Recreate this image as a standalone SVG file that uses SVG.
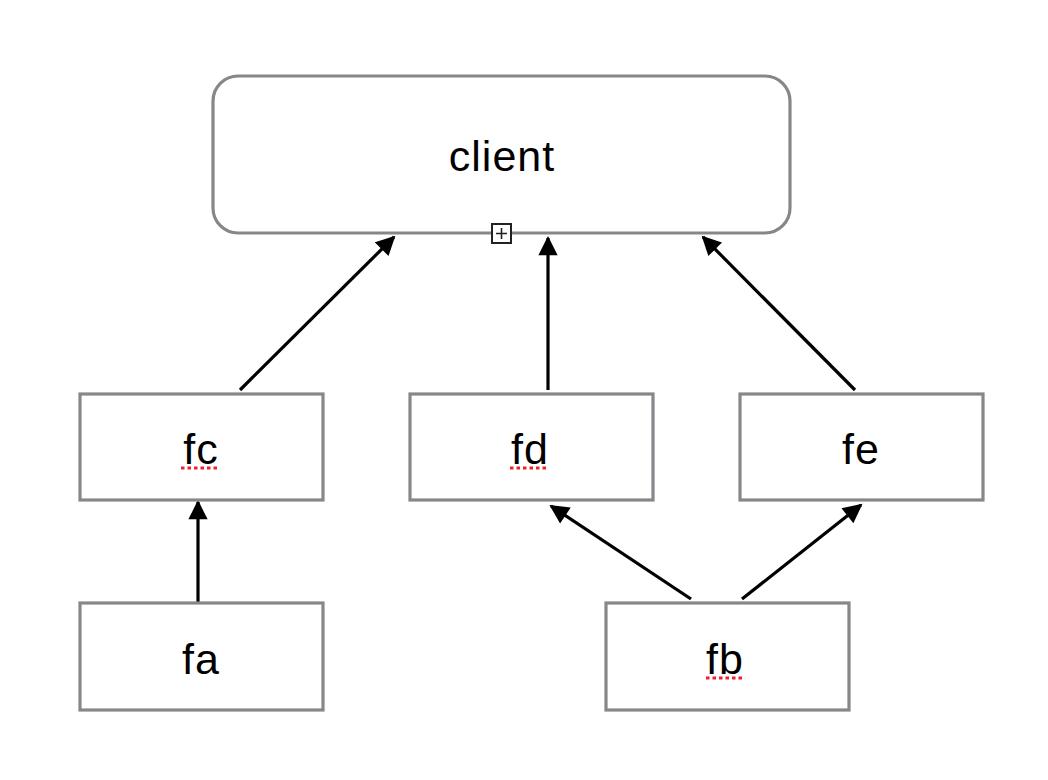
<svg xmlns="http://www.w3.org/2000/svg" width="1048" height="780" viewBox="0 0 1048 780">
<style>
.box{fill:#fff;stroke:#86878a;stroke-width:3.2}
.lbl{font-family:"Liberation Sans",Arial,sans-serif;font-size:43px;letter-spacing:1px;fill:#000;text-anchor:middle}
.edge{stroke:#000;stroke-width:3.2;fill:none}
.spell{stroke:#f0202a;stroke-width:3;stroke-dasharray:3.5 3;fill:none}
</style>
<defs>
<marker id="ah" viewBox="0 0 10 10" refX="9" refY="5" markerWidth="6.5" markerHeight="6" markerUnits="strokeWidth" orient="auto">
<path d="M0,0 L10,5 L0,10 z" fill="#000"/>
</marker>
</defs>
<rect width="1048" height="780" fill="#fff"/>
<g id="connectors">
<line class="edge" x1="240" y1="390" x2="394" y2="237" marker-end="url(#ah)"/>
<line class="edge" x1="548" y1="390" x2="548" y2="238" marker-end="url(#ah)"/>
<line class="edge" x1="855" y1="390" x2="703" y2="237" marker-end="url(#ah)"/>
<line class="edge" x1="198" y1="605" x2="198" y2="502" marker-end="url(#ah)"/>
<line class="edge" x1="691" y1="599" x2="551" y2="506" marker-end="url(#ah)"/>
<line class="edge" x1="742" y1="599" x2="861" y2="505" marker-end="url(#ah)"/>
</g>
<g id="client">
<rect class="box" x="213" y="76" width="577" height="157" rx="25" ry="25"/>
<text class="lbl" x="502" y="171">client</text>
<rect x="492" y="224" width="19" height="19" fill="#fff" stroke="#222" stroke-width="2"/>
<path d="M496,233.5 H507 M501.5,228 V239" stroke="#222" stroke-width="1.6"/>
</g>
<g id="fc">
<rect class="box" x="80" y="394" width="243" height="106"/>
<text class="lbl" x="201" y="464">fc</text>
<line class="spell" x1="181" y1="468" x2="220" y2="468"/>
</g>
<g id="fd">
<rect class="box" x="410" y="394" width="243" height="106"/>
<text class="lbl" x="530" y="464">fd</text>
<line class="spell" x1="510" y1="468" x2="549" y2="468"/>
</g>
<g id="fe">
<rect class="box" x="740" y="394" width="243" height="106"/>
<text class="lbl" x="861" y="464">fe</text>
</g>
<g id="fa">
<rect class="box" x="80" y="603" width="243" height="107"/>
<text class="lbl" x="201" y="674">fa</text>
</g>
<g id="fb">
<rect class="box" x="606" y="603" width="243" height="107"/>
<text class="lbl" x="725" y="674">fb</text>
<line class="spell" x1="706" y1="678" x2="745" y2="678"/>
</g>
</svg>
